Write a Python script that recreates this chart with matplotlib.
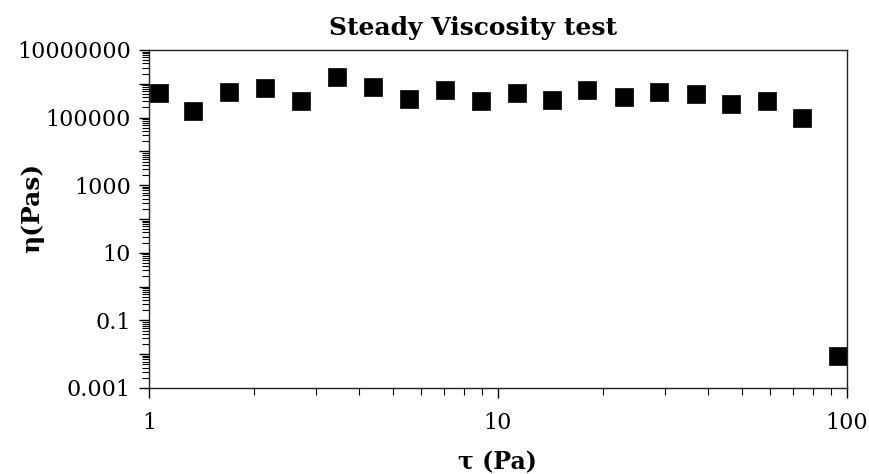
import matplotlib
matplotlib.use("Agg")
import matplotlib.pyplot as plt
import numpy as np

plt.rcParams["font.family"] = "DejaVu Serif"

# shear stress (Pa) and viscosity (Pa s)
tau = [1.07, 1.34, 1.70, 2.15, 2.73, 3.45, 4.38, 5.55, 7.04, 8.92,
       11.3, 14.3, 18.0, 23.0, 28.9, 36.9, 46.4, 58.8, 74.4, 94.2]
eta = [524000, 153000, 571000, 741000, 314000, 1620000, 815000, 367000,
       678000, 314000, 527000, 343000, 678000, 402000, 564000, 516000,
       256000, 314000, 99300, 0.00885]

y_decades = [0.001, 0.01, 0.1, 1, 10, 100, 1000, 10000, 100000, 1000000, 10000000]
y_labels = ["0.001", "", "0.1", "", "10", "", "1000", "", "100000", "", "10000000"]
x_ticks = [1, 10, 100]
x_labels = ["1", "10", "100"]

fig = plt.figure(figsize=(8.7, 4.74), dpi=100)
ax = fig.add_axes([149/870, 1-388/474, 698/870, 338/474])

ax.plot(tau, eta, ls="none", marker="s", markersize=13.5, color="black",
        markeredgewidth=0.5)

ax.set_xscale("log")
ax.set_yscale("log")
ax.set_xlim(1, 100)
ax.set_ylim(0.001, 10000000)

ax.set_yticks(y_decades)
ax.set_yticklabels(y_labels)
ax.set_xticks(x_ticks)
ax.set_xticklabels(x_labels)
ax.yaxis.set_minor_locator(matplotlib.ticker.LogLocator(base=10, subs=np.arange(2, 10), numticks=20))
ax.yaxis.set_minor_formatter(matplotlib.ticker.NullFormatter())
ax.xaxis.set_minor_formatter(matplotlib.ticker.NullFormatter())

ax.tick_params(which="major", direction="out", length=7, width=1, labelsize=16, colors="black", pad=6)
ax.tick_params(which="minor", direction="out", length=5, width=0.8)
ax.tick_params(axis="x", which="major", pad=10)
for s in ax.spines.values():
    s.set_linewidth(1)
    s.set_color("#222222")

fig.text(473/870, 1-28/474, "Steady Viscosity test", ha="center", va="center",
         fontsize=18, fontweight="bold")
fig.text(497/870, 1-462/474, "τ (Pa)", ha="center", va="center",
         fontsize=17, fontweight="bold")
fig.text(32/870, 1-208/474, "η(Pas)", rotation=90, ha="center", va="center",
         fontsize=18, fontweight="bold")

fig.savefig("out.png", dpi=100)
